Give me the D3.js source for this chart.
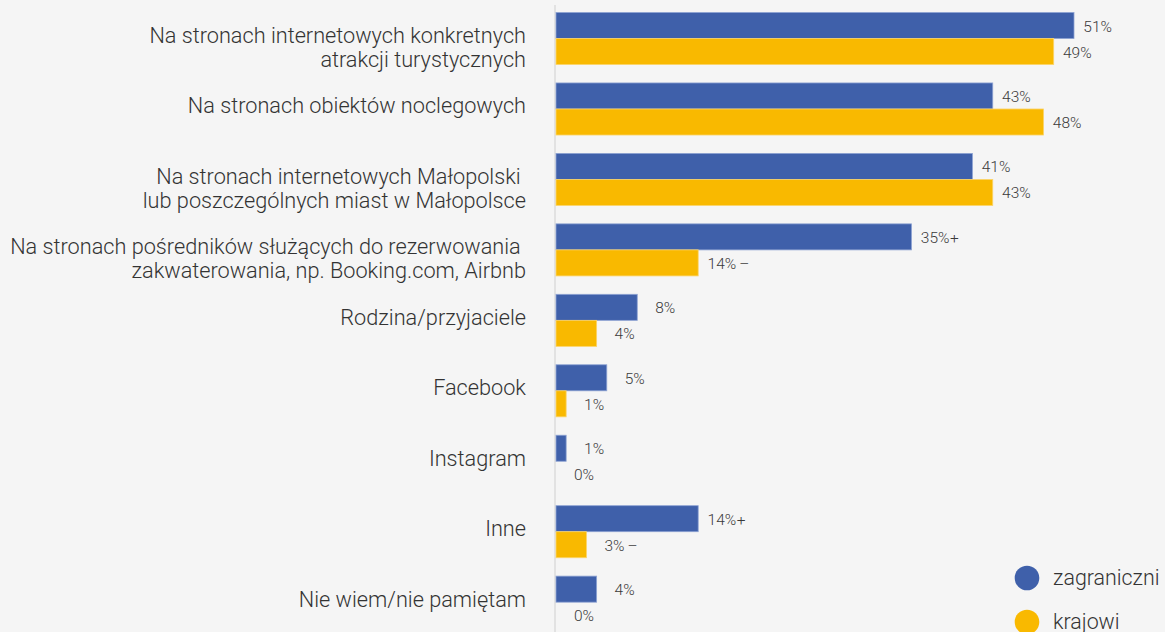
<!DOCTYPE html>
<html>
<head>
<meta charset="utf-8">
<script src="https://cdn.jsdelivr.net/npm/d3@7"></script>
<style>
  html, body { margin: 0; padding: 0; background: #f5f5f5; }
  svg { display: block; }
  text { font-family: Roboto, "Noto Sans", sans-serif; font-weight: 300; }
</style>
</head>
<body>
<svg id="chart" width="1165" height="632"></svg>
<script>
// Categories (one or two lines each)
const categories = [
  ["Na stronach internetowych konkretnych", "atrakcji turystycznych"],
  ["Na stronach obiektów noclegowych"],
  ["Na stronach internetowych Małopolski ", "lub poszczególnych miast w Małopolsce"],
  ["Na stronach pośredników służących do rezerwowania ", "zakwaterowania, np. Booking.com, Airbnb"],
  ["Rodzina/przyjaciele"],
  ["Facebook"],
  ["Instagram"],
  ["Inne"],
  ["Nie wiem/nie pamiętam"]
];

const seriesNames = ["zagraniczni", "krajowi"];

// Shares in percent
const zagraniczni = [51, 43, 41, 35, 8, 5, 1, 14, 4];
const krajowi     = [49, 48, 43, 14, 4, 1, 0, 3, 0];

// Significance markers shown after the value
const zagraniczniMarks = ["", "", "", "+", "", "", "", "+", ""];
const krajowiMarks     = ["", "", "", "–", "", "", "", "–", ""];

const colors = ["#3f60aa", "#f9b900"];
const strokes = ["#8ea3d3", "#fbd46a"];

const svg = d3.select("#chart");
const W = 1165, H = 632;

svg.append("rect").attr("width", W).attr("height", H).attr("fill", "#f5f5f5");

const idx = d3.range(categories.length);

const x = d3.scaleLinear().domain([0, 51]).range([556, 1074]);
const y = d3.scaleBand().domain(idx).range([12.5, 628.2]).paddingInner(0.261).paddingOuter(0);
const ySub = d3.scaleBand().domain(seriesNames).range([0, y.bandwidth()]);

const rows = idx.map(i => ({
  i,
  values: [
    { s: seriesNames[0], v: zagraniczni[i], m: zagraniczniMarks[i] },
    { s: seriesNames[1], v: krajowi[i], m: krajowiMarks[i] }
  ]
}));

// vertical baseline axis
svg.append("line")
  .attr("x1", 555).attr("x2", 555)
  .attr("y1", 5).attr("y2", H)
  .attr("stroke", "#e2e2e2").attr("stroke-width", 2);

const g = svg.selectAll("g.row").data(rows).join("g")
  .attr("class", "row")
  .attr("transform", d => `translate(0,${y(d.i)})`);

// bars
g.selectAll("rect.bar").data(d => d.values).join("rect")
  .attr("class", "bar")
  .attr("x", x(0))
  .attr("y", d => ySub(d.s))
  .attr("width", d => x(d.v) - x(0))
  .attr("height", ySub.bandwidth())
  .attr("fill", (d, k) => colors[k])
  .attr("stroke", (d, k) => d.v > 0 ? strokes[k] : "none")
  .attr("stroke-width", 0.8);

// value labels, right edge at a fixed offset from the bar end
const valG = g.selectAll("g.val").data(d => d.values).join("g").attr("class", "val");
valG.append("text")
  .attr("x", d => x(d.v) + 38)
  .attr("y", d => ySub(d.s) + ySub.bandwidth() / 2 + 6)
  .attr("text-anchor", "end")
  .attr("font-size", 15.5)
  .attr("fill", "#3a3a3a")
  .text(d => d.v + "%");
valG.filter(d => d.m).append("text")
  .attr("x", d => x(d.v) + 38 + (d.m === "+" ? 0.5 : 3))
  .attr("y", d => ySub(d.s) + ySub.bandwidth() / 2 + 6)
  .attr("text-anchor", "start")
  .attr("font-size", 15.5)
  .attr("fill", "#3a3a3a")
  .text(d => d.m);

// category labels
g.append("text")
  .attr("text-anchor", "end")
  .attr("font-size", 21.7)
  .attr("fill", "#333")
  .style("white-space", "pre")
  .selectAll("tspan").data(d => categories[d.i]).join("tspan")
  .attr("x", 526)
  .attr("y", (d, k) => y.bandwidth() / 2 + 4.5 + k * 24)
  .text(d => d);

// legend
const legend = svg.append("g");
const legY = [578, 622];
seriesNames.forEach((name, k) => {
  legend.append("circle")
    .attr("cx", 1027).attr("cy", legY[k]).attr("r", 12.3)
    .attr("fill", colors[k]);
  legend.append("text")
    .attr("x", 1053).attr("y", legY[k] + 7)
    .attr("font-size", 21.4)
    .attr("fill", "#333")
    .text(name);
});
</script>
</body>
</html>
